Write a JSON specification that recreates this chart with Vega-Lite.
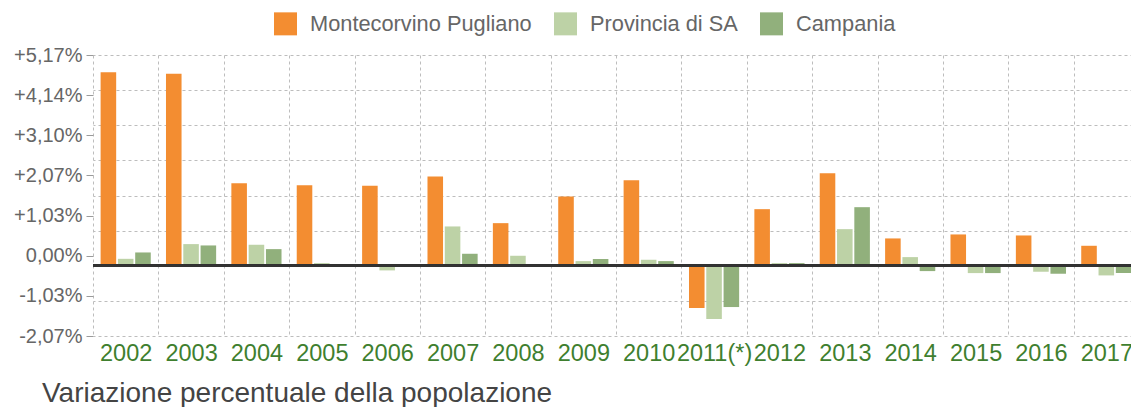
{
  "$schema": "https://vega.github.io/schema/vega-lite/v6.json",
  "width": 1046,
  "height": 281,
  "autosize": {"type": "none"},
  "padding": {"left": 93, "top": 55, "right": 0, "bottom": 71},
  "background": "#ffffff",
  "config": {
    "font": "Liberation Sans",
    "view": {"stroke": null}
  },
  "title": {
    "text": "Variazione percentuale della popolazione",
    "orient": "bottom",
    "anchor": "start",
    "frame": "group",
    "dx": -51,
    "offset": 15,
    "fontSize": 28,
    "fontWeight": "normal",
    "color": "#444444",
    "font": "Liberation Sans"
  },
  "data": {
    "values": [
      {"year": "2002", "series": "Montecorvino Pugliano", "value": 4.746},
      {"year": "2002", "series": "Provincia di SA", "value": 0.17},
      {"year": "2002", "series": "Campania", "value": 0.326},
      {"year": "2003", "series": "Montecorvino Pugliano", "value": 4.712},
      {"year": "2003", "series": "Provincia di SA", "value": 0.531},
      {"year": "2003", "series": "Campania", "value": 0.498},
      {"year": "2004", "series": "Montecorvino Pugliano", "value": 2.026},
      {"year": "2004", "series": "Provincia di SA", "value": 0.515},
      {"year": "2004", "series": "Campania", "value": 0.408},
      {"year": "2005", "series": "Montecorvino Pugliano", "value": 1.977},
      {"year": "2005", "series": "Provincia di SA", "value": 0.065},
      {"year": "2005", "series": "Campania", "value": 0.0},
      {"year": "2006", "series": "Montecorvino Pugliano", "value": 1.96},
      {"year": "2006", "series": "Provincia di SA", "value": -0.114},
      {"year": "2006", "series": "Campania", "value": 0.0},
      {"year": "2007", "series": "Montecorvino Pugliano", "value": 2.189},
      {"year": "2007", "series": "Provincia di SA", "value": 0.964},
      {"year": "2007", "series": "Campania", "value": 0.294},
      {"year": "2008", "series": "Montecorvino Pugliano", "value": 1.045},
      {"year": "2008", "series": "Provincia di SA", "value": 0.245},
      {"year": "2008", "series": "Campania", "value": 0.0},
      {"year": "2009", "series": "Montecorvino Pugliano", "value": 1.699},
      {"year": "2009", "series": "Provincia di SA", "value": 0.114},
      {"year": "2009", "series": "Campania", "value": 0.163},
      {"year": "2010", "series": "Montecorvino Pugliano", "value": 2.099},
      {"year": "2010", "series": "Provincia di SA", "value": 0.147},
      {"year": "2010", "series": "Campania", "value": 0.114},
      {"year": "2011(*)", "series": "Montecorvino Pugliano", "value": -1.037},
      {"year": "2011(*)", "series": "Provincia di SA", "value": -1.307},
      {"year": "2011(*)", "series": "Campania", "value": -1.013},
      {"year": "2012", "series": "Montecorvino Pugliano", "value": 1.388},
      {"year": "2012", "series": "Provincia di SA", "value": 0.065},
      {"year": "2012", "series": "Campania", "value": 0.065},
      {"year": "2013", "series": "Montecorvino Pugliano", "value": 2.271},
      {"year": "2013", "series": "Provincia di SA", "value": 0.898},
      {"year": "2013", "series": "Campania", "value": 1.437},
      {"year": "2014", "series": "Montecorvino Pugliano", "value": 0.67},
      {"year": "2014", "series": "Provincia di SA", "value": 0.212},
      {"year": "2014", "series": "Campania", "value": -0.131},
      {"year": "2015", "series": "Montecorvino Pugliano", "value": 0.768},
      {"year": "2015", "series": "Provincia di SA", "value": -0.18},
      {"year": "2015", "series": "Campania", "value": -0.18},
      {"year": "2016", "series": "Montecorvino Pugliano", "value": 0.743},
      {"year": "2016", "series": "Provincia di SA", "value": -0.147},
      {"year": "2016", "series": "Campania", "value": -0.196},
      {"year": "2017", "series": "Montecorvino Pugliano", "value": 0.49},
      {"year": "2017", "series": "Provincia di SA", "value": -0.237},
      {"year": "2017", "series": "Campania", "value": -0.18}
    ]
  },
  "layer": [
    {
      "mark": {"type": "rule", "opacity": 0},
      "encoding": {
        "y": {
          "field": "value",
          "type": "quantitative",
          "scale": {"domain": [-1.7233, 5.17], "nice": false, "zero": false},
          "axis": {
            "orient": "right",
            "title": null,
            "grid": true,
            "values": [-1.7233, -0.8617, 0, 0.8617, 1.7233, 2.585, 3.4467, 4.3083, 5.17],
            "labels": false,
            "ticks": false,
            "domain": false,
            "gridColor": "#bdbdbd",
            "gridDash": [3, 3],
            "gridWidth": 1
          }
        }
      }
    },
    {
      "mark": {"type": "bar"},
      "encoding": {
        "x": {
          "field": "year",
          "type": "nominal",
          "sort": null,
          "scale": {"paddingInner": 0, "paddingOuter": 0},
          "axis": {
            "title": null,
            "labelAngle": 0,
            "labelFontSize": 23.5,
            "labelColor": "#3f7f2f",
            "labelPadding": 5,
            "labelOverlap": false,
            "labelBound": false,
            "labelFlush": false,
            "ticks": false,
            "domain": false,
            "grid": true,
            "tickBand": "extent",
            "gridColor": "#bdbdbd",
            "gridDash": [3, 3],
            "gridWidth": 1
          }
        },
        "xOffset": {
          "field": "series",
          "type": "nominal",
          "sort": ["Montecorvino Pugliano", "Provincia di SA", "Campania"],
          "scale": {"paddingInner": 0.1, "paddingOuter": 0.44}
        },
        "y": {
          "field": "value",
          "type": "quantitative",
          "axis": {
            "orient": "left",
            "title": null,
            "grid": false,
            "domain": false,
            "values": [5.17, 4.1852, 3.2005, 2.2157, 1.231, 0.2462, -0.7386, -1.7233],
            "labelExpr": "datum.value > 5 ? '+5,17%' : datum.value > 4 ? '+4,14%' : datum.value > 3 ? '+3,10%' : datum.value > 2 ? '+2,07%' : datum.value > 1 ? '+1,03%' : datum.value > 0 ? '0,00%' : datum.value > -1 ? '-1,03%' : '-2,07%'",
            "labelFontSize": 20,
            "labelColor": "#666666",
            "labelPadding": 4,
            "tickSize": 7,
            "tickColor": "#9a9a9a"
          }
        },
        "color": {
          "field": "series",
          "type": "nominal",
          "scale": {
            "domain": ["Montecorvino Pugliano", "Provincia di SA", "Campania"],
            "range": ["#f38d31", "#bdd2a6", "#91b07c"]
          },
          "legend": {
            "title": null,
            "orient": "none",
            "legendX": 181,
            "legendY": -43,
            "direction": "horizontal",
            "symbolType": "square",
            "symbolSize": 529,
            "symbolStrokeWidth": 0,
            "symbolOpacity": 1,
            "labelFontSize": 21.8,
            "labelLimit": 0,
            "labelColor": "#666666",
            "labelOffset": 13,
            "columnPadding": 22,
            "padding": 0
          }
        }
      }
    },
    {
      "mark": {"type": "rule", "color": "#333333", "strokeWidth": 2},
      "encoding": {
        "y": {"datum": 0, "type": "quantitative", "axis": null}
      }
    }
  ],
  "resolve": {"axis": {"y": "independent"}}
}
